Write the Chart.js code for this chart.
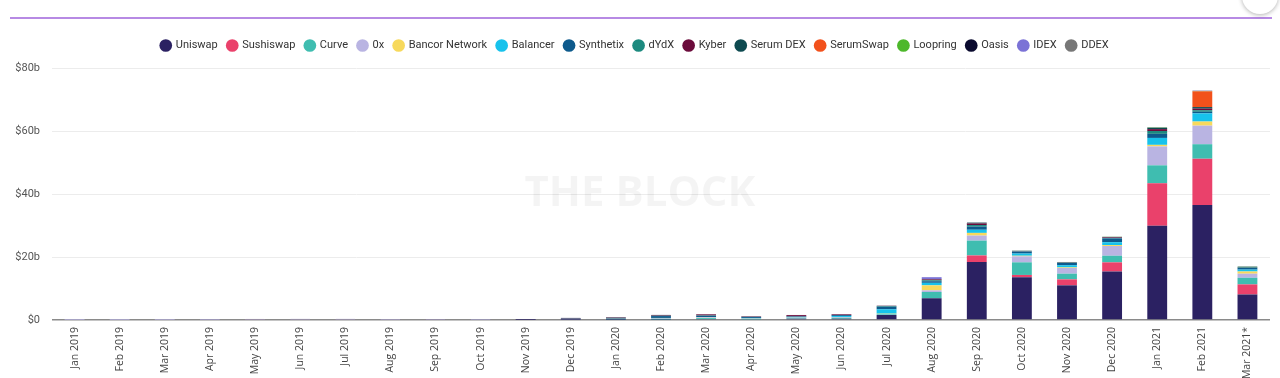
<!DOCTYPE html>
<html>
<head>
<meta charset="utf-8">
<script src="https://cdn.jsdelivr.net/npm/chart.js@4.4.1/dist/chart.umd.min.js"></script>
<style>
  html, body { margin: 0; padding: 0; background: #fff; }
  body { width: 1280px; height: 378px; position: relative; overflow: hidden; font-family: Roboto, sans-serif; }
  #topline { position: absolute; left: 10px; right: 8px; top: 17px; height: 2px; background: #b78ae4; }
  #circ { position: absolute; left: 1242px; top: -22px; width: 36px; height: 36px; border-radius: 50%; background: #fff; box-shadow: 0 1px 4px rgba(0,0,0,0.3); }
  #wrap { position: absolute; left: 0; top: 0; width: 1280px; height: 378px; }
</style>
</head>
<body>
<div id="topline"></div>
<div id="circ"></div>
<div id="wrap"><canvas id="c" width="1280" height="378"></canvas></div>
<script>
const months = ["Jan 2019","Feb 2019","Mar 2019","Apr 2019","May 2019","Jun 2019","Jul 2019","Aug 2019","Sep 2019","Oct 2019","Nov 2019","Dec 2019",
  "Jan 2020","Feb 2020","Mar 2020","Apr 2020","May 2020","Jun 2020","Jul 2020","Aug 2020","Sep 2020","Oct 2020","Nov 2020","Dec 2020",
  "Jan 2021","Feb 2021","Mar 2021*"];
const yTicks = [0, 20, 40, 60, 80];

const uniswap   = [0,0,0,0,0,0,0,0,0,0,0.03,0.05, 0.05,0.1,0.3,0.2,0.4,0.4,1.6,6.9,18.4,13.6,11.0,15.4, 29.9,36.5,8.1];
const sushiswap = [0,0,0,0,0,0,0,0,0,0,0,0, 0,0,0,0,0,0,0,0,2.1,0.7,1.9,2.9, 13.5,14.7,3.2];
const curve     = [0,0,0,0,0,0,0,0,0,0,0,0.02, 0.2,0.3,0.3,0.2,0.15,0.3,0.2,2.0,4.7,4.0,1.8,2.1, 5.7,4.6,2.1];
const zeroX     = [0.02,0.02,0.03,0.05,0.08,0.08,0.08,0.06,0.08,0.06,0.05,0.1, 0.1,0.2,0.2,0.1,0.15,0.2,0.1,0.5,1.6,1.9,1.8,3.1, 6.0,5.9,1.3];
const bancor    = [0.01,0.01,0.01,0.02,0.05,0.05,0.05,0.03,0.04,0.03,0.03,0.05, 0.05,0.05,0.08,0.05,0.05,0.05,0.1,1.6,0.85,0.2,0.2,0.3, 0.5,1.3,0.7];
const balancer  = [0,0,0,0,0,0,0,0,0,0,0,0, 0,0,0.05,0.1,0.15,0.3,1.4,0.8,1.0,0.7,0.7,0.9, 2.2,2.6,0.6];
const synthetix = [0,0,0,0.02,0.03,0.03,0.03,0.02,0.03,0.04,0.05,0.2, 0.25,0.6,0.4,0.3,0.2,0.3,0.8,0.5,1.0,0.6,0.7,1.2, 1.3,0.5,0.5];
const dydx      = [0.01,0.01,0.01,0.01,0.01,0.02,0.02,0.02,0.02,0.02,0.02,0.03, 0.05,0.1,0.1,0.05,0.05,0.05,0.2,0.3,0.5,0.1,0.1,0.15, 0.9,0.5,0.2];
const kyber     = [0.01,0.01,0.02,0.04,0.08,0.08,0.08,0.05,0.08,0.05,0.05,0.15, 0.15,0.2,0.35,0.15,0.4,0.2,0.1,0.3,0.5,0.1,0.1,0.2, 0.6,0.5,0.1];
const serumDex  = [0,0,0,0,0,0,0,0,0,0,0,0, 0,0,0,0,0,0,0,0.05,0.2,0.05,0.05,0.1, 0.4,0.5,0.1];
const serumSwap = [0,0,0,0,0,0,0,0,0,0,0,0, 0,0,0,0,0,0,0,0,0,0,0,0, 0,5.0,0];
const loopring  = [0,0,0,0,0,0,0,0,0,0,0,0, 0,0,0,0,0,0,0.01,0.02,0.03,0.03,0.03,0.05, 0.1,0.1,0.05];
const oasis     = [0.02,0.02,0.02,0.03,0.05,0.05,0.05,0.04,0.05,0.04,0.03,0.05, 0.05,0.05,0.05,0.03,0.03,0.03,0.03,0.02,0.05,0.02,0.02,0.02, 0.05,0.05,0.02];
const idex      = [0.01,0.01,0.01,0.02,0.02,0.02,0.02,0.01,0.01,0.01,0.01,0.01, 0.01,0.01,0.01,0.01,0.01,0.01,0.02,0.6,0.05,0.02,0.02,0.02, 0.05,0.05,0.02];
const ddex      = [0.01,0.01,0.01,0.01,0.01,0.01,0.01,0.01,0.01,0.01,0.01,0.01, 0.01,0.01,0.01,0.01,0.01,0.01,0.01,0.01,0.01,0.01,0.01,0.01, 0.01,0.01,0.01];

const series = [
  ["Uniswap", uniswap, "#2b2162"],
  ["Sushiswap", sushiswap, "#ea416b"],
  ["Curve", curve, "#3fbdb0"],
  ["0x", zeroX, "#b9b4e2"],
  ["Bancor Network", bancor, "#f7d95c"],
  ["Balancer", balancer, "#17c2ec"],
  ["Synthetix", synthetix, "#0d5a8c"],
  ["dYdX", dydx, "#1c8a7f"],
  ["Kyber", kyber, "#6b0b3b"],
  ["Serum DEX", serumDex, "#0e4a50"],
  ["SerumSwap", serumSwap, "#f2511c"],
  ["Loopring", loopring, "#4db82b"],
  ["Oasis", oasis, "#0a0a2e"],
  ["IDEX", idex, "#7b72d6"],
  ["DDEX", ddex, "#777777"]
];

const watermark = {
  id: 'watermark',
  beforeDatasetsDraw(chart) {
    const ctx = chart.ctx;
    ctx.save();
    ctx.font = 'bold 42px "Open Sans", sans-serif';
    ctx.fillStyle = 'rgba(0,0,0,0.045)';
    ctx.textAlign = 'center';
    ctx.textBaseline = 'middle';
    ctx.fillText('THE BLOCK', chart.width / 2, (chart.chartArea.top + chart.chartArea.bottom) / 2);
    ctx.restore();
  }
};

const legendGap = {
  id: 'legendGap',
  beforeInit(chart) {
    const orig = chart.legend.fit;
    chart.legend.fit = function () { orig.call(this); this.height += 7; };
  }
};

new Chart(document.getElementById('c'), {
  type: 'bar',
  data: {
    labels: months,
    datasets: series.map(([name, data, color]) => ({
      label: name, data: data, backgroundColor: color, borderWidth: 0,
      barPercentage: 0.55, categoryPercentage: 0.8
    }))
  },
  options: {
    responsive: false,
    animation: false,
    layout: { padding: { top: 30, right: 10, left: 0, bottom: 0 } },
    plugins: {
      legend: {
        position: 'top',
        labels: {
          usePointStyle: true, pointStyle: 'circle', boxWidth: 9, boxHeight: 9,
          padding: 10, color: '#333', font: { family: 'Roboto', size: 11 }
        }
      },
      tooltip: { enabled: false }
    },
    scales: {
      x: {
        stacked: true,
        afterFit(scale) { scale.height = 58; },
        grid: { display: false, drawTicks: false },
        border: { display: false },
        ticks: { minRotation: 90, maxRotation: 90, autoSkip: false, padding: 7, color: '#444', font: { family: 'Open Sans', size: 10.5 } }
      },
      y: {
        stacked: true,
        min: 0, max: 80,
        afterFit(scale) { scale.width = 52; },
        afterBuildTicks(scale) { scale.ticks = yTicks.map(v => ({ value: v })); },
        grid: {
          drawTicks: false,
          color: (c) => c.tick && c.tick.value === 0 ? '#8a8a8a' : '#ececec',
          lineWidth: (c) => c.tick && c.tick.value === 0 ? 1.5 : 1
        },
        border: { display: false },
        ticks: {
          padding: 12, color: '#555', font: { family: 'Roboto', size: 11 },
          callback: (v) => v === 0 ? '$0' : '$' + v + 'b'
        }
      }
    }
  },
  plugins: [watermark, legendGap]
});
</script>
</body>
</html>
